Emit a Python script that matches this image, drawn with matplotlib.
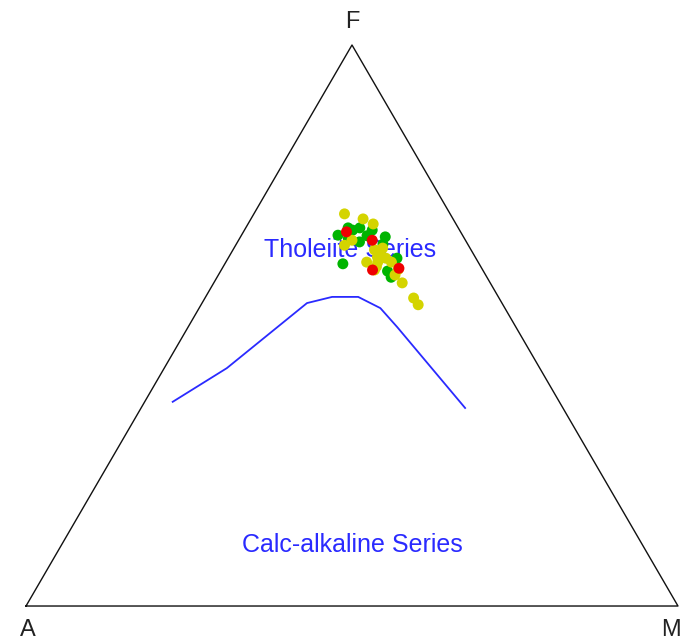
import numpy as np
import matplotlib
matplotlib.use("Agg")
import matplotlib.pyplot as plt

plt.rcParams['font.family'] = ['Liberation Sans', 'DejaVu Sans']

# AFM ternary data (percent): A = Na2O+K2O, F = FeOt, M = MgO
yellow_A = [16.2, 13.8, 12.7, 13.5, 13.1, 13.0, 14.3, 13.8, 15.4, 19.0, 17.1, 13.9, 17.4, 13.4, 16.6, 13.3,
            15.0, 14.8, 16.0, 12.9]
yellow_F = [69.9, 69.0, 68.1, 57.6, 54.9, 53.7, 62.9, 62.0, 61.3, 64.3, 61.3, 59.0, 65.2, 63.8, 59.9, 61.3,
            62.2, 63.5, 60.5, 60.0]
yellow_M = [13.9, 17.2, 19.2, 28.9, 32.0, 33.3, 22.8, 24.2, 23.3, 16.7, 21.6, 27.1, 17.4, 22.8, 23.5, 25.4,
            22.8, 21.7, 23.5, 27.1]

green_A = [19.1, 20.9, 16.4, 15.1, 13.4, 12.0, 16.4, 12.1, 14.7, 14.7, 14.7, 16.9, 17.8, 13.0]
green_F = [66.1, 61.0, 67.0, 67.4, 67.0, 65.8, 64.9, 62.0, 59.7, 58.6, 66.0, 67.4, 65.5, 64.5]
green_M = [14.8, 18.1, 16.6, 17.5, 19.6, 22.2, 18.7, 25.9, 25.6, 26.7, 19.3, 15.7, 16.7, 22.5]

red_A = [17.5, 14.3, 16.9, 12.7]
red_F = [66.7, 65.2, 59.9, 60.2]
red_M = [15.8, 20.5, 23.2, 27.1]

# Tholeiite / calc-alkaline dividing line
line_A = [59.3, 48.0, 29.9, 25.5, 21.5, 19.1, 18.2, 15.0]
line_F = [36.4, 42.4, 54.0, 55.1, 55.1, 53.1, 49.7, 35.3]
line_M = [4.3, 9.6, 16.1, 19.4, 23.4, 27.8, 32.1, 49.7]

H = np.sqrt(3) / 2


def tern(a, f, m):
    a, f, m = np.asarray(a, float), np.asarray(f, float), np.asarray(m, float)
    s = a + f + m
    return (m + f / 2) / s, f / s * H


fig = plt.figure(figsize=(6.83, 6.41), dpi=100)
ax = fig.add_axes([0, 0, 1, 1])
ax.set_xlim(-0.0399, 1.0077)
ax.set_ylim(-0.054, 0.9355)
ax.axis('off')

# triangle frame
tx, ty = tern([100, 0, 0, 100], [0, 100, 0, 0], [0, 0, 100, 0])
ax.plot(tx, ty, color='#111111', lw=1.0)

# dividing line
lx, ly = tern(line_A, line_F, line_M)
ax.plot(lx, ly, color='#2a2aff', lw=1.3)

# samples
for A, F, M, c in [(green_A, green_F, green_M, '#00b400'),
                   (yellow_A, yellow_F, yellow_M, '#d4d400'),
                   (red_A, red_F, red_M, '#ee0000')]:
    x, y = tern(A, F, M)
    ax.scatter(x, y, s=62, color=c, edgecolors='none', zorder=3)

# series labels
x, y = tern(18.5, 63.5, 18.0)
ax.text(x, y, 'Tholeiite Series', color='#2a2aff', fontsize=18,
        ha='center', va='center', zorder=2)
x, y = tern(44.5, 10.9, 44.6)
ax.text(x, y, 'Calc-alkaline Series', color='#2a2aff', fontsize=18,
        ha='center', va='center')

# vertex labels
ax.text(0.5, H + 0.036, 'F', fontsize=17, color='#222222', ha='center', va='center')
ax.text(0.003, -0.037, 'A', fontsize=17, color='#222222', ha='center', va='center')
ax.text(0.990, -0.037, 'M', fontsize=17, color='#222222', ha='center', va='center')

fig.savefig('out.png', dpi=100)
